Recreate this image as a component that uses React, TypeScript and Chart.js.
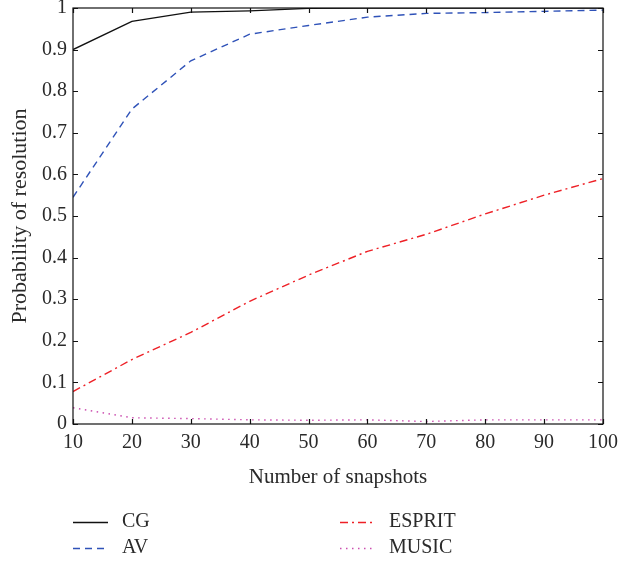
import React, { useEffect, useRef } from "react";
import { Chart, registerables } from "chart.js";

Chart.register(...registerables);

const snapshots = [10, 20, 30, 40, 50, 60, 70, 80, 90, 100];
const cgValues = [0.9, 0.968, 0.99, 0.993, 0.999, 1.0, 1.0, 1.0, 1.0, 1.0];
const avValues = [0.545, 0.757, 0.873, 0.937, 0.958, 0.978, 0.987, 0.989, 0.992, 0.995];
const espritValues = [0.078, 0.155, 0.22, 0.295, 0.358, 0.415, 0.456, 0.505, 0.55, 0.59];
const musicValues = [0.039, 0.015, 0.013, 0.01, 0.009, 0.01, 0.006, 0.01, 0.01, 0.01];
const xTicks = [10, 20, 30, 40, 50, 60, 70, 80, 90, 100];
const yTicks = [0, 0.1, 0.2, 0.3, 0.4, 0.5, 0.6, 0.7, 0.8, 0.9, 1];
const yTickLabels = ["0", "0.1", "0.2", "0.3", "0.4", "0.5", "0.6", "0.7", "0.8", "0.9", "1"];
const seriesLabels = ["CG", "AV", "ESPRIT", "MUSIC"];

const FONT = "'Liberation Serif', 'DejaVu Serif', serif";
const TEXT = "#2a2a2a";

const framePlugin = {
  id: "frame",
  afterDraw(chart: any) {
    const { ctx, chartArea: a, scales } = chart;
    const xs = scales.x, ys = scales.y;
    ctx.save();
    ctx.strokeStyle = "#111";
    ctx.lineWidth = 1.2;
    ctx.strokeRect(a.left, a.top, a.right - a.left, a.bottom - a.top);
    const L = 5;
    ctx.beginPath();
    xTicks.forEach((v) => {
      const px = Math.round(xs.getPixelForValue(v)) + 0.5;
      ctx.moveTo(px, a.bottom); ctx.lineTo(px, a.bottom - L);
      ctx.moveTo(px, a.top); ctx.lineTo(px, a.top + L);
    });
    yTicks.forEach((v) => {
      const py = Math.round(ys.getPixelForValue(v)) + 0.5;
      ctx.moveTo(a.left, py); ctx.lineTo(a.left + L, py);
      ctx.moveTo(a.right, py); ctx.lineTo(a.right - L, py);
    });
    ctx.stroke();

    // legend (two columns)
    const ds = chart.data.datasets;
    const cols = [a.left, 340];
    const rows = [522, 548];
    ctx.font = `20px ${FONT}`;
    ctx.textBaseline = "middle";
    ctx.textAlign = "left";
    ds.forEach((d: any, i: number) => {
      const cx = cols[Math.floor(i / 2)];
      const cy = rows[i % 2];
      ctx.save();
      ctx.strokeStyle = d.borderColor;
      ctx.lineWidth = d.borderWidth;
      ctx.setLineDash(d.borderDash || []);
      ctx.beginPath();
      ctx.moveTo(cx, cy + 0.5);
      ctx.lineTo(cx + 35, cy + 0.5);
      ctx.stroke();
      ctx.restore();
      ctx.fillStyle = TEXT;
      ctx.fillText(d.label, cx + 49, cy);
    });
    ctx.restore();
  },
};

export default function App() {
  const ref = useRef<HTMLCanvasElement | null>(null);
  useEffect(() => {
    if (!ref.current) return;
    const mk = (vals: number[]) => snapshots.map((x, i) => ({ x, y: vals[i] }));
    const chart = new Chart(ref.current, {
      type: "line",
      data: {
        datasets: [
          { label: seriesLabels[0], data: mk(cgValues), borderColor: "#111111", borderWidth: 1.4, borderDash: [], pointRadius: 0, fill: false, tension: 0 },
          { label: seriesLabels[1], data: mk(avValues), borderColor: "#2f52b8", borderWidth: 1.4, borderDash: [7, 5], pointRadius: 0, fill: false, tension: 0 },
          { label: seriesLabels[2], data: mk(espritValues), borderColor: "#ee2026", borderWidth: 1.4, borderDash: [8, 4, 2, 4], pointRadius: 0, fill: false, tension: 0 },
          { label: seriesLabels[3], data: mk(musicValues), borderColor: "#cc4fb0", borderWidth: 1.4, borderDash: [1.5, 4.5], pointRadius: 0, fill: false, tension: 0 },
        ],
      },
      options: {
        animation: false,
        responsive: false,
        maintainAspectRatio: false,
        layout: { padding: { top: 8, right: 16, left: 0, bottom: 68 } },
        plugins: { legend: { display: false }, tooltip: { enabled: false } },
        scales: {
          x: {
            type: "linear",
            min: 10,
            max: 100,
            afterBuildTicks: (s: any) => { s.ticks = xTicks.map((v) => ({ value: v })); },
            afterFit: (s: any) => { s.height = 70; s.paddingLeft = 0; s.paddingRight = 0; },
            grid: { display: false, drawTicks: false },
            border: { display: false },
            ticks: { color: TEXT, font: { family: FONT, size: 20 }, padding: 7, maxRotation: 0, callback: (v: any) => String(v) },
            title: { display: true, text: "Number of snapshots", color: TEXT, font: { family: FONT, size: 21 }, padding: { top: 6 } },
          },
          y: {
            type: "linear",
            min: 0,
            max: 1,
            afterBuildTicks: (s: any) => { s.ticks = yTicks.map((v) => ({ value: v })); },
            afterFit: (s: any) => { s.width = 73; s.paddingTop = 0; s.paddingBottom = 0; },
            grid: { display: false, drawTicks: false },
            border: { display: false },
            ticks: {
              color: TEXT,
              font: { family: FONT, size: 20 },
              padding: 6,
              callback: (v: any, i: number) => yTickLabels[i],
            },
            title: { display: true, text: "Probability of resolution", color: TEXT, font: { family: FONT, size: 22 }, padding: { top: 7, bottom: 4 } },
          },
        },
      },
      plugins: [framePlugin],
    });
    return () => chart.destroy();
  }, []);
  return (
    <div style={{ position: "absolute", left: 0, top: 0, width: 619, height: 562, background: "#fff" }}>
      <canvas ref={ref} width={619} height={562} style={{ display: "block" }} />
    </div>
  );
}
